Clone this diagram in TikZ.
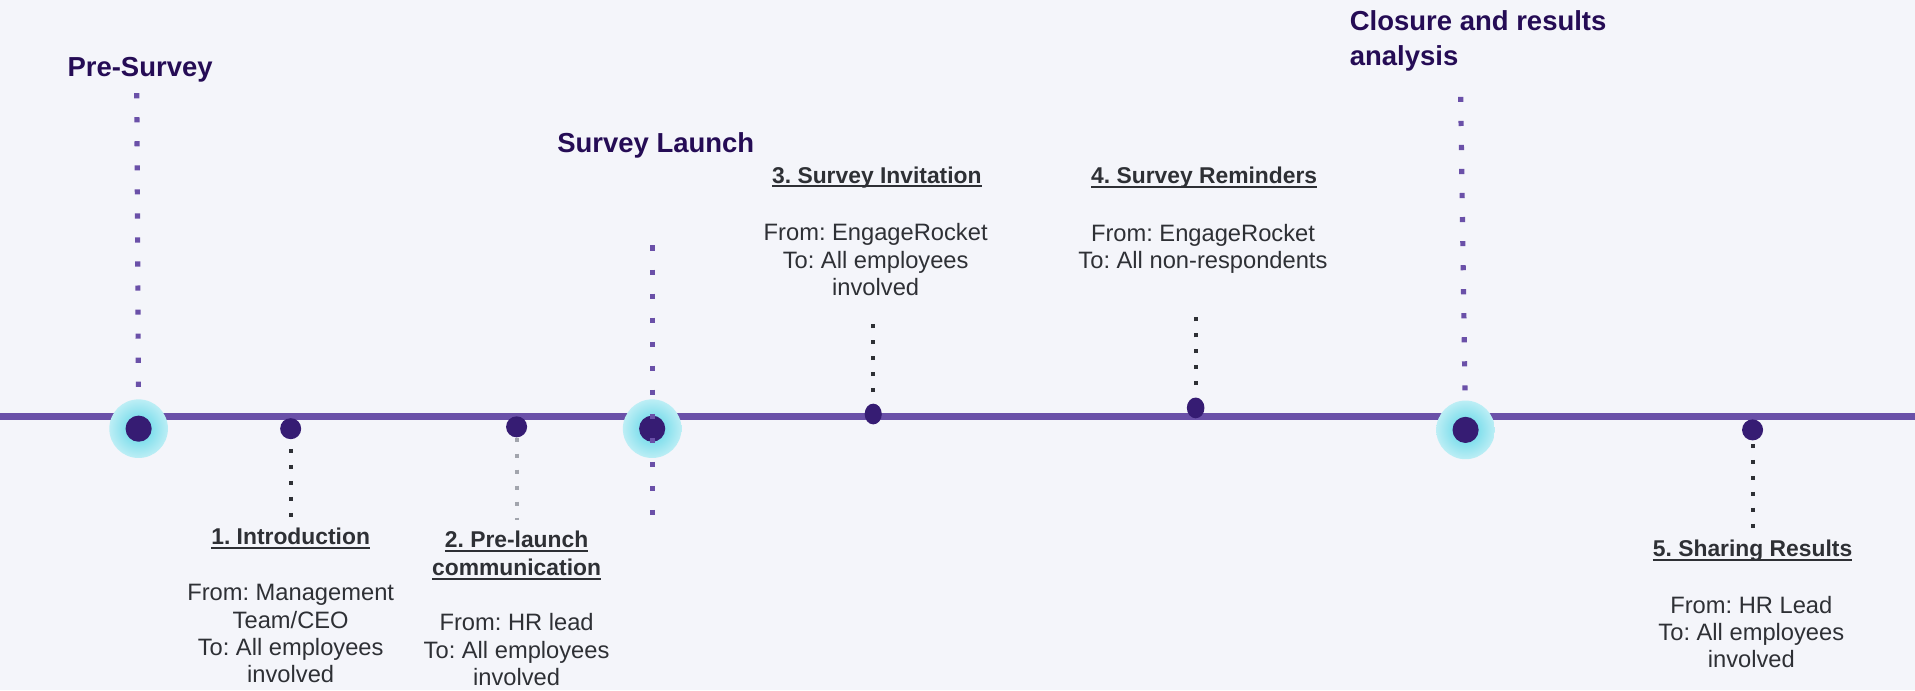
\documentclass[tikz,border=0pt]{standalone}
\usepackage{fontspec}
\setmainfont{Liberation Sans}
\usepackage{tikz}
\usetikzlibrary{shapes.geometric}
\frenchspacing

\definecolor{bgpaper}{HTML}{F4F5FA}
\definecolor{lineviolet}{HTML}{6A50A8}
\definecolor{dotviolet}{HTML}{361C73}
\definecolor{headviolet}{HTML}{250C55}
\definecolor{textgray}{HTML}{2E3035}
\definecolor{paledots}{HTML}{A2A5AD}
\definecolor{glowin}{HTML}{58D4E6}
\definecolor{glowout}{HTML}{BCEEF5}

\newsavebox{\ulsave}
\newcommand{\undl}[1]{\sbox{\ulsave}{#1}\rlap{\rule[-2.4pt]{\wd\ulsave}{1.1pt}}\usebox{\ulsave}}

\begin{document}
\begin{tikzpicture}[x=0.025cm,y=-0.025cm,
  heading/.style={font=\fontsize{16}{20.5}\selectfont\bfseries,text=headviolet,inner sep=0pt,align=left},
  sub/.style={font=\fontsize{13.3}{16.4}\selectfont\bfseries,text=textgray,inner sep=0pt,align=center},
  body/.style={font=\fontsize{13.8}{16}\selectfont,text=textgray,inner sep=0pt,align=center},
  glow/.style={circle,minimum size=12mm,inner sep=0pt,inner color=glowin,outer color=glowout},
  hub/.style={circle,fill=dotviolet,minimum size=5.35mm,inner sep=0pt},
  tick/.style={ellipse,fill=dotviolet,minimum width=4.3mm,minimum height=4.3mm,inner sep=0pt},
  bigdots/.style={lineviolet,line width=3pt,dash pattern=on 3pt off 11pt},
  smalldots/.style={textgray,line width=2.35pt,dash pattern=on 2.35pt off 6.95pt}]
\fill[bgpaper] (0,0) rectangle (1568,565);
\useasboundingbox (0,0) rectangle (1568,565);

\coordinate (west) at (0,341);
\coordinate (east) at (1568,341);
\draw[lineviolet,line width=4.5pt] (west) -- (east);

\node (g1) at (113.5,351) [glow] {};
\node (g2) at (534,351) [glow] {};
\node (g3) at (1200,352) [glow] {};
\node (m1) at (g1) [hub] {};
\node (m2) at (g2) [hub] {};
\node (m3) at (g3) [hub] {};

\node (t1) at (238,351) [tick] {};
\node (t2) at (423,349.5) [tick] {};
\node (t3) at (715,339) [tick,minimum width=3.5mm,minimum height=4.25mm] {};
\node (t4) at (979,334) [tick,minimum width=3.6mm,minimum height=4.25mm] {};
\node (t5) at (1435,352) [tick] {};

\coordinate (top1) at (112,76);
\coordinate (top2) at (534,201);
\coordinate (bot2) at (534,424);
\coordinate (top3) at (1196,79);
\draw[bigdots,shorten <=7.1pt] (g1) -- (top1);
\draw[bigdots] (top2) -- (bot2);
\draw[bigdots,shorten <=5.7pt] (g3) -- (top3);

\coordinate (end1) at (238,424);
\coordinate (end2) at (423,426);
\coordinate (end3) at (715,264);
\coordinate (end4) at (979,259);
\coordinate (end5) at (1435,432.5);
\draw[smalldots,shorten <=5.5pt] (t1) -- (end1);
\draw[smalldots,paledots] (t2) -- (end2);
\draw[smalldots,shorten <=6.5pt] (t3) -- (end3);
\draw[smalldots,shorten <=7pt] (t4) -- (end4);
\draw[smalldots,shorten <=1.9pt] (t5) -- (end5);

\node (pre) at (55,63) [heading,anchor=base west] {Pre-Survey};
\node (launch) at (456,125) [heading,anchor=base west] {Survey Launch};
\node (closure) at (1105,8.3) [heading,anchor=north west] {Closure and results\\analysis};

\node (s1) at (238,446) [sub,anchor=base] {\undl{1. Introduction}};
\node (f1) at (238,478.1) [body,anchor=north] {From: Management\\Team/CEO\\To: All employees\\involved};
\node (s2) at (423,434.6) [sub,anchor=north] {\undl{2. Pre-launch}\\\undl{communication}};
\node (f2) at (423,502.1) [body,anchor=north] {From: HR lead\\To: All employees\\involved};
\node (s3) at (718,150) [sub,anchor=base] {\undl{3. Survey Invitation}};
\node (f3) at (717,182.7) [body,anchor=north] {From: EngageRocket\\To: All employees\\involved};
\node (s4) at (986,150.5) [sub,anchor=base] {\undl{4. Survey Reminders}};
\node (f4) at (985,183.1) [body,anchor=north] {From: EngageRocket\\To: All non-respondents};
\node (s5) at (1435,456) [sub,anchor=base] {\undl{5. Sharing Results}};
\node (f5) at (1434,487.6) [body,anchor=north] {From: HR Lead\\To: All employees\\involved};
\end{tikzpicture}
\end{document}
